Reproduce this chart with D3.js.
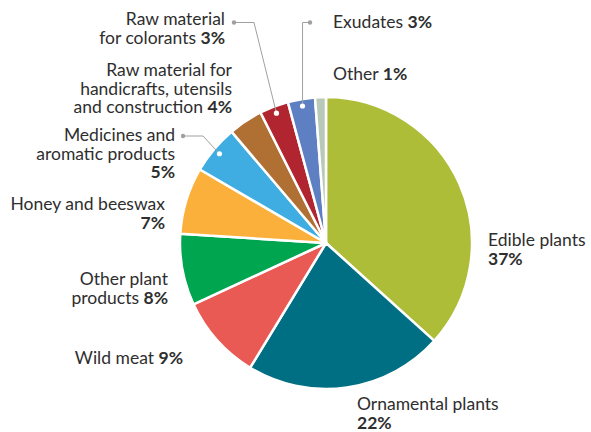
<!DOCTYPE html>
<html><head><meta charset="utf-8">
<script src="https://cdn.jsdelivr.net/npm/d3@7"></script>
<style>
html,body{margin:0;padding:0;background:#fff;}
svg{display:block;}
text{font-family:"Lato","Open Sans",sans-serif;fill:#2e2e2e;}
</style></head>
<body>
<svg id="chart" width="591" height="432"></svg>
<script>
const categories = ["Edible plants","Ornamental plants","Wild meat","Other plant products","Honey and beeswax","Medicines and aromatic products","Raw material for handicrafts, utensils and construction","Raw material for colorants","Exudates","Other"];
const values = [36.7, 22.0, 9.4, 7.9, 7.4, 5.4, 3.8, 3.2, 3.0, 1.2];
const pctLabels = ["37%","22%","9%","8%","7%","5%","4%","3%","3%","1%"];
const colors = ["#aebd38","#006f84","#e95a54","#00a550","#fbb03b","#3fade2","#b06f33","#b12530","#5e7fc1","#b9c9b9"];
// "" as last entry means the percentage sits on its own line
const labelLines = [
  ["Edible plants", ""],
  ["Ornamental plants", ""],
  ["Wild meat "],
  ["Other plant", "products "],
  ["Honey and beeswax", ""],
  ["Medicines and", "aromatic products", ""],
  ["Raw material for", "handicrafts, utensils", "and construction "],
  ["Raw material", "for colorants "],
  ["Exudates "],
  ["Other "]
];

const cx = 326, cy = 243, R = 146;
const fs = 17.5, lh = 18.5;
const labelPos = [
  {x:488, y:246, anchor:"start"},
  {x:357, y:410, anchor:"start"},
  {x:183, y:364, anchor:"end"},
  {x:168, y:285, anchor:"end"},
  {x:165, y:210, anchor:"end"},
  {x:175, y:141, anchor:"end"},
  {x:232, y:76, anchor:"end"},
  {x:225, y:25, anchor:"end"},
  {x:333, y:28, anchor:"start"},
  {x:333, y:80, anchor:"start"}
];
const leaders = {
  5: {dot:[183,136], elbow:[203,136]},
  7: {dot:[234,22.5], elbow:[254,22.5]},
  8: {dot:[310,22.5], elbow:[301,22.5], vertical:true}
};

const svg = d3.select("#chart");
const data = categories.map((c,i)=>({cat:c, value:values[i], i}));
const pie = d3.pie().value(d=>d.value).sort(null).startAngle(0).endAngle(2*Math.PI);
const arcs = pie(data);
const arc = d3.arc().innerRadius(0).outerRadius(R);
const dotArc = d3.arc().innerRadius(139).outerRadius(139);

const g = svg.append("g").attr("transform",`translate(${cx},${cy})`);
g.selectAll("path").data(arcs).join("path")
  .attr("d", arc)
  .attr("fill", d=>colors[d.data.i])
  .attr("stroke","#fff")
  .attr("stroke-width",2.5)
  .attr("stroke-linejoin","round");

Object.entries(leaders).forEach(([k,l])=>{
  const a = arcs[+k];
  let [px,py] = dotArc.centroid(a);
  px += cx; py += cy;
  let ex = l.elbow[0], ey = l.elbow[1];
  if (l.vertical) { ex = px; }
  svg.append("polyline")
    .attr("points", [[l.dot[0],l.dot[1]],[ex,ey],[px,py]].map(p=>p.join(",")).join(" "))
    .attr("fill","none").attr("stroke","#a0a0a0").attr("stroke-width",1);
  svg.append("circle").attr("cx",l.dot[0]).attr("cy",l.dot[1]).attr("r",2.2).attr("fill","#a0a0a0");
  svg.append("circle").attr("cx",px).attr("cy",py).attr("r",2.6).attr("fill","#fff");
});

labelLines.forEach((lines,i)=>{
  const p = labelPos[i];
  const t = svg.append("text").attr("text-anchor",p.anchor).attr("font-size",fs);
  lines.forEach((ln,j)=>{
    const y = p.y + j*lh;
    const last = j === lines.length-1;
    if (last && ln === "") {
      t.append("tspan").attr("x",p.x).attr("y",y).attr("font-weight","bold").text(pctLabels[i]);
    } else {
      t.append("tspan").attr("x",p.x).attr("y",y).text(ln);
      if (last) t.append("tspan").attr("font-weight","bold").text(pctLabels[i]);
    }
  });
});
</script>
</body></html>
